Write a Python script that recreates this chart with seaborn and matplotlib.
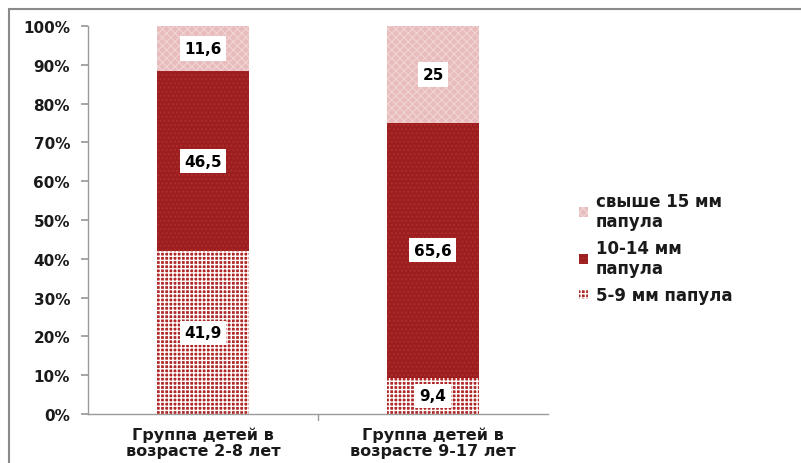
import matplotlib
matplotlib.use("Agg")
import matplotlib.pyplot as plt
import seaborn as sns
import pandas as pd
from matplotlib.patches import Patch
from matplotlib.lines import Line2D

sns.set_theme(style="white")
plt.rcParams["font.family"] = ["DejaVu Sans"]

groups = ["Группа детей в\nвозрасте 2-8 лет", "Группа детей в\nвозрасте 9-17 лет"]
small = [41.9, 9.4]      # 5-9 мм папула
medium = [46.5, 65.6]    # 10-14 мм папула
large = [11.6, 25.0]     # свыше 15 мм папула
series_names = ["5-9 мм папула", "10-14 мм\nпапула", "свыше 15 мм\nпапула"]
yticks = [0, 10, 20, 30, 40, 50, 60, 70, 80, 90, 100]

df = pd.DataFrame({"group": groups, "small": small, "medium": medium, "large": large})
df["b_medium"] = df["small"]
df["b_large"] = df["small"] + df["medium"]

styles = [
    dict(col="small", bottom=None, face="#b02727", hatch="++++", hc="#ffffff", hlw=1.0),
    dict(col="medium", bottom="b_medium", face="#9c1e1e", hatch="....", hc="#ad2c2c", hlw=1.0),
    dict(col="large", bottom="b_large", face="#e8bcbc", hatch="xxxx", hc="#f1d3d3", hlw=0.8),
]


def style_patch(p, st):
    p.set_facecolor(st["face"])
    p.set_hatch(st["hatch"])
    p.set_edgecolor(st["hc"])
    p.set_linewidth(0)
    try:
        p.set_hatch_linewidth(st["hlw"])
    except AttributeError:
        plt.rcParams["hatch.linewidth"] = st["hlw"]


fig = plt.figure(figsize=(8.01, 4.64), dpi=100)
ax = fig.add_axes([0.11, 0.1056, 0.574, 0.8362])

for st in styles:
    n0 = len(ax.patches)
    kw = {}
    if st["bottom"] is not None:
        kw["bottom"] = df[st["bottom"]].values
    sns.barplot(data=df, x="group", y=st["col"], ax=ax, color=st["face"],
                width=0.4, saturation=1, **kw)
    for p in ax.patches[n0:]:
        style_patch(p, st)

# value labels in white boxes
for i in range(len(groups)):
    bottoms = [0, small[i], small[i] + medium[i]]
    vals = [small[i], medium[i], large[i]]
    for b, v in zip(bottoms, vals):
        txt = f"{v:g}".replace(".", ",")
        ax.text(i, b + v / 2, txt, ha="center", va="center", fontsize=11,
                fontweight="bold", color="black",
                bbox=dict(boxstyle="square,pad=0.3", fc="white", ec="none"))

ax.set_ylim(0, 100)
ax.set_xlim(-0.5, 1.5)
ax.set_yticks(yticks)
ax.set_yticklabels([f"{v}%" for v in yticks], fontsize=11, fontweight="bold",
                   color="#1a1a1a")
ax.set_xticks([0, 1])
ax.set_xticklabels(groups, fontsize=11.5, fontweight="bold", linespacing=1.05,
                   color="#1a1a1a")
ax.set_xlabel("")
ax.set_ylabel("")

for s in ["top", "right"]:
    ax.spines[s].set_visible(False)
for s in ["left", "bottom"]:
    ax.spines[s].set_color("#9a9a9a")
    ax.spines[s].set_linewidth(1)
ax.tick_params(axis="y", left=True, length=5, color="#9a9a9a", pad=8)
ax.tick_params(axis="x", bottom=False, pad=3)
# category separator tick on x axis
ax.plot([0.5, 0.5], [0, -1.5], color="#9a9a9a", lw=1, clip_on=False)

handles = []
for st in reversed(styles):
    h = Patch(facecolor=st["face"], hatch=st["hatch"], edgecolor=st["hc"], lw=0)
    handles.append(h)
leg = fig.legend(handles, list(reversed(series_names)),
                 loc="upper left", bbox_to_anchor=(0.704, 0.617), frameon=False,
                 prop=dict(size=12, weight="bold"), handlelength=0.55, handleheight=0.55,
                 handletextpad=0.45, labelspacing=0.55)
for t in leg.get_texts():
    t.set_color("#1a1a1a")
    t.set_linespacing(1.15)

# outer frame lines (top and left)
fig.add_artist(Line2D([0.011, 1.0], [0.978, 0.978], color="#8a8a8a", lw=1.5,
                      transform=fig.transFigure))
fig.add_artist(Line2D([0.011, 0.011], [0.0, 0.978], color="#8a8a8a", lw=1.5,
                      transform=fig.transFigure))

fig.savefig("out.png", dpi=100)
